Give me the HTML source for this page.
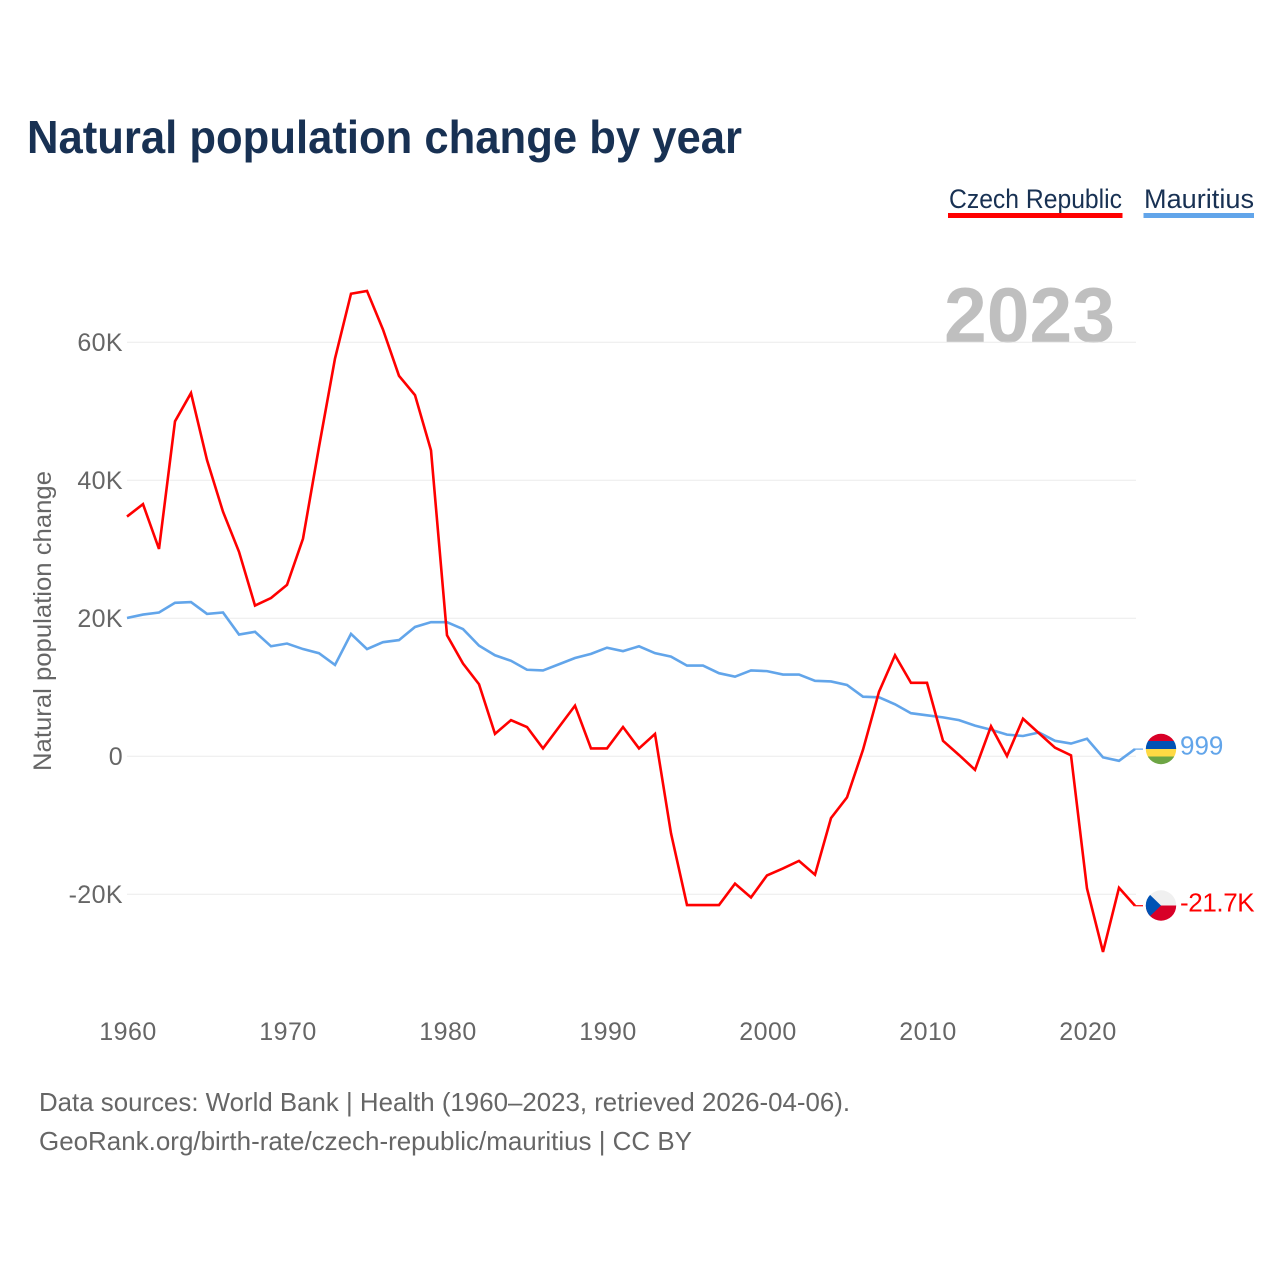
<!DOCTYPE html>
<html lang="en">
<head>
<meta charset="utf-8">
<title>Natural population change by year</title>
<style>
html,body{margin:0;padding:0;background:#fff;width:1280px;height:1280px;overflow:hidden}
svg{display:block;font-family:"Liberation Sans",sans-serif}
</style>
</head>
<body>
<svg id="chart" width="1280" height="1280" viewBox="0 0 1280 1280" xmlns="http://www.w3.org/2000/svg">
  <defs>
    <clipPath id="flag-clip-mu"><circle cx="1161" cy="749" r="15.2"/></clipPath>
    <clipPath id="flag-clip-cz"><circle cx="1161" cy="905.5" r="15.2"/></clipPath>
  </defs>
  <rect width="1280" height="1280" fill="#fff"/>
  <text x="27" y="153" font-size="46" font-weight="700" fill="#183153" textLength="715" lengthAdjust="spacingAndGlyphs">Natural population change by year</text>

  <g>
    <text x="949" y="208" font-size="27" fill="#183153" textLength="173" lengthAdjust="spacingAndGlyphs">Czech Republic</text>
    <rect x="948" y="213" width="174.500" height="5" fill="#ff0000"/>
  </g>
  <g>
    <text x="1144" y="208" font-size="27" fill="#183153" textLength="110" lengthAdjust="spacingAndGlyphs">Mauritius</text>
    <rect x="1143.500" y="213" width="110.500" height="5" fill="#62a5ea"/>
  </g>

  <text x="944" y="342" font-size="78" font-weight="700" fill="#bfbfbf" textLength="171" lengthAdjust="spacingAndGlyphs">2023</text>

  <g id="grid"></g>
  <g id="y-ticks"></g>
  <g id="x-ticks"></g>

  <text transform="translate(51,771) rotate(-90)" font-size="25" fill="#666" textLength="300" lengthAdjust="spacingAndGlyphs">Natural population change</text>

  <g id="series"></g>

  <g clip-path="url(#flag-clip-mu)">
    <rect x="1145" y="733" width="32" height="8.500" fill="#d80027"/>
    <rect x="1145" y="741" width="32" height="8" fill="#0052b4"/>
    <rect x="1145" y="749" width="32" height="7.500" fill="#ffda44"/>
    <rect x="1145" y="756.500" width="32" height="8.500" fill="#6da544"/>
  </g>
  <g clip-path="url(#flag-clip-cz)">
    <rect x="1145" y="890" width="32" height="16" fill="#f0f0f0"/>
    <rect x="1145" y="905.500" width="32" height="16" fill="#d80027"/>
    <polygon points="1145,890 1145,921 1161,905.500" fill="#0052b4"/>
  </g>

  <g id="end-labels"></g>

  <text x="39" y="1111" font-size="26" fill="#666" textLength="811" lengthAdjust="spacingAndGlyphs">Data sources: World Bank | Health (1960–2023, retrieved 2026-04-06).</text>
  <text x="39" y="1150" font-size="26" fill="#666" textLength="653" lengthAdjust="spacingAndGlyphs">GeoRank.org/birth-rate/czech-republic/mauritius | CC BY</text>
</svg>

<script>
const startYear = 1960;
const yTickValues = [-20, 0, 20, 40, 60];
const yTickLabels = ["-20K", "0", "20K", "40K", "60K"];
const xTickYears = [1960, 1970, 1980, 1990, 2000, 2010, 2020];
const czechValues = [34.7, 36.5, 30.0, 48.5, 52.6, 42.9, 35.4, 29.6, 21.8, 22.9, 24.8, 31.5, 44.8, 57.6, 67.0, 67.4, 61.8, 55.1, 52.3, 44.3, 17.5, 13.4, 10.4, 3.2, 5.2, 4.2, 1.1, 4.2, 7.3, 1.1, 1.1, 4.2, 1.1, 3.2, -11.2, -21.6, -21.6, -21.6, -18.5, -20.5, -17.3, -16.3, -15.2, -17.2, -9.0, -6.0, 0.9, 9.3, 14.6, 10.6, 10.6, 2.2, 0.15, -2.0, 4.3, 0.0, 5.4, 3.3, 1.2, 0.1, -19.2, -28.4, -19.1, -21.7];
const mauritiusValues = [20.0, 20.5, 20.8, 22.2, 22.3, 20.6, 20.8, 17.6, 18.0, 15.9, 16.3, 15.5, 14.9, 13.2, 17.7, 15.5, 16.5, 16.8, 18.7, 19.4, 19.4, 18.4, 16.0, 14.6, 13.8, 12.5, 12.4, 13.3, 14.2, 14.8, 15.7, 15.2, 15.9, 14.9, 14.4, 13.1, 13.1, 12.0, 11.5, 12.4, 12.3, 11.8, 11.8, 10.9, 10.8, 10.3, 8.6, 8.5, 7.5, 6.2, 5.9, 5.6, 5.2, 4.4, 3.8, 3.1, 2.9, 3.4, 2.2, 1.8, 2.5, -0.2, -0.7, 0.999];
const czechEndLabel = "-21.7K";
const mauritiusEndLabel = "999";

const svgNS = "http://www.w3.org/2000/svg";
function xScale(year) { return 127 + (year - startYear) * 16; }
function yScale(value) { return 756 - value * 6.9; }
function make(tag, attrs, parent, text) {
  const el = document.createElementNS(svgNS, tag);
  for (const k in attrs) el.setAttribute(k, attrs[k]);
  if (text !== undefined) el.textContent = text;
  parent.appendChild(el);
  return el;
}

const gridGroup = document.getElementById("grid");
const yTickGroup = document.getElementById("y-ticks");
yTickValues.forEach(function (v, i) {
  const line = make("line", { x1: 127, x2: 1136, y1: yScale(v) + 0.25, y2: yScale(v) + 0.25, stroke: "#ebebeb", "stroke-width": 1 }, gridGroup);
  
  
  const label = make("text", { x: 123, y: yScale(v) + 9, "text-anchor": "end", "font-size": 25, fill: "#666", "letter-spacing": 0.4 }, yTickGroup, yTickLabels[i]);
  
  
});

const xTickGroup = document.getElementById("x-ticks");
xTickYears.forEach(function (year) {
  const label = make("text", { x: xScale(year) + 1, y: 1040, "text-anchor": "middle", "font-size": 25, fill: "#666", "letter-spacing": 0.5 }, xTickGroup, String(year));
  
  
});

function linePoints(values) {
  return values.map(function (v, i) { return xScale(startYear + i) + "," + yScale(v); }).join(" ");
}
const seriesGroup = document.getElementById("series");

const mauritiusLine = make("polyline", { points: linePoints(mauritiusValues), fill: "none", stroke: "#62a5ea", "stroke-width": 2.6, "stroke-linejoin": "miter" }, seriesGroup);



const czechLine = make("polyline", { points: linePoints(czechValues), fill: "none", stroke: "#ff0000", "stroke-width": 2.6, "stroke-linejoin": "miter" }, seriesGroup);



const lastIndex = czechValues.length - 1;
const lastX = xScale(startYear + lastIndex);

const mauritiusLeader = make("line", { x1: lastX, x2: lastX + 8, y1: yScale(mauritiusValues[lastIndex]), y2: yScale(mauritiusValues[lastIndex]), stroke: "#62a5ea", "stroke-width": 1.2 }, seriesGroup);



const czechLeader = make("line", { x1: lastX, x2: lastX + 8, y1: yScale(czechValues[lastIndex]), y2: yScale(czechValues[lastIndex]), stroke: "#ff0000", "stroke-width": 1.2 }, seriesGroup);



const endLabels = document.getElementById("end-labels");
const mauritiusText = make("text", { x: 1180, y: 754.5, "font-size": 26, fill: "#62a5ea" }, endLabels, mauritiusEndLabel);



const czechText = make("text", { x: 1180, y: 911.5, "font-size": 26, fill: "#ff0000", "letter-spacing": -0.4 }, endLabels, czechEndLabel);


</script>
</body>
</html>
